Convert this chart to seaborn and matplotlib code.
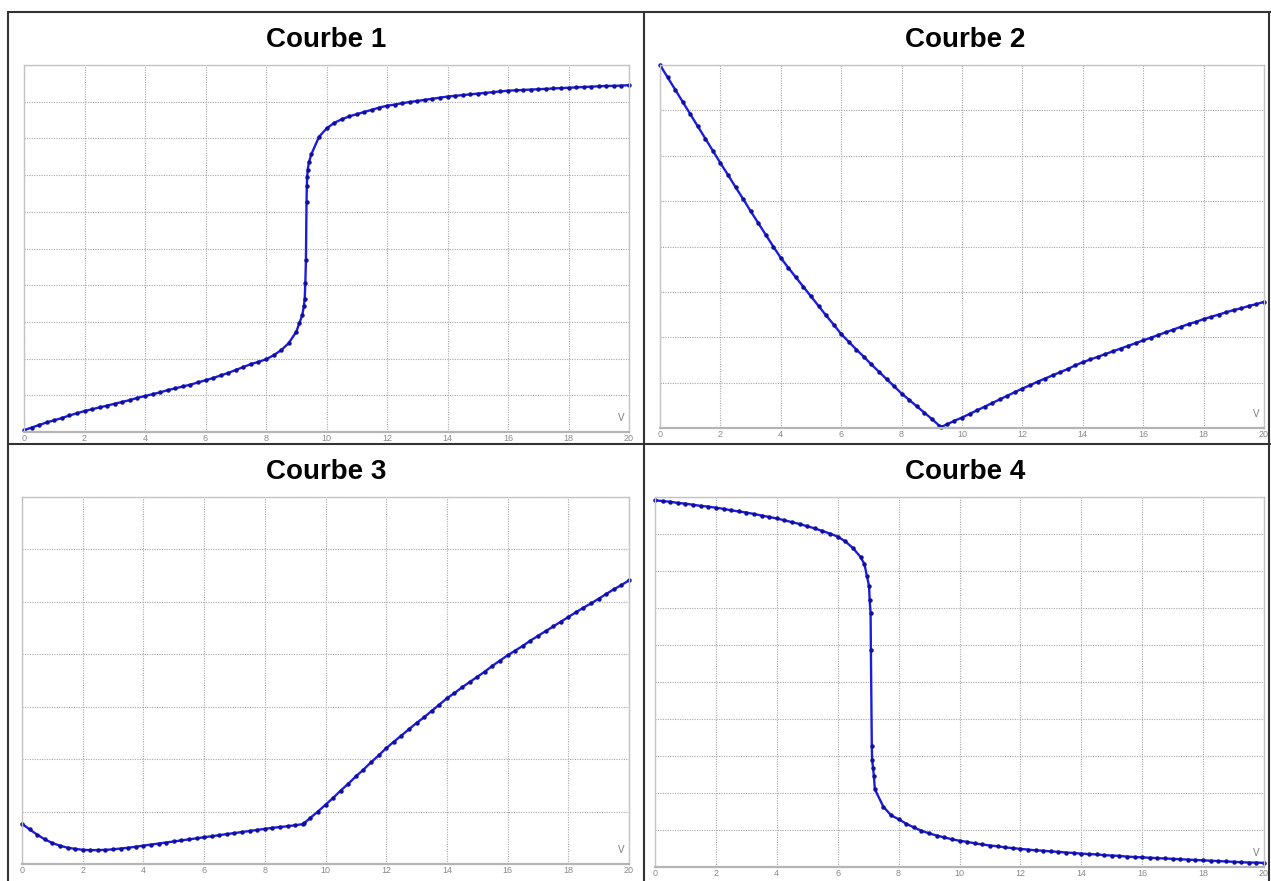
import matplotlib
matplotlib.use("Agg")
import matplotlib.pyplot as plt
from matplotlib.lines import Line2D
import seaborn as sns
import pandas as pd

# ---------------- data ----------------
titles = ["Courbe 1", "Courbe 2", "Courbe 3", "Courbe 4"]
x_ticks = [0, 2, 4, 6, 8, 10, 12, 14, 16, 18, 20]
x_tick_labels = ["0", "2", "4", "6", "8", "10", "12", "14", "16", "18", "20"]
y_max = [10, 8, 7, 10]

c1_x = [0, 0.25, 0.5, 0.75, 1, 1.25, 1.5, 1.75, 2, 2.25, 2.5, 2.75, 3, 3.25, 3.5, 3.75,
        4, 4.25, 4.5, 4.75, 5, 5.25, 5.5, 5.75, 6, 6.25, 6.5, 6.75, 7, 7.25, 7.5, 7.75,
        8, 8.25, 8.5, 8.75, 9, 9.1, 9.2, 9.25, 9.28, 9.3, 9.32, 9.34, 9.35, 9.36, 9.38,
        9.42, 9.5, 9.75, 10, 10.25, 10.5, 10.75, 11, 11.25, 11.5, 11.75, 12, 12.25, 12.5,
        12.75, 13, 13.25, 13.5, 13.75, 14, 14.25, 14.5, 14.75, 15, 15.25, 15.5, 15.75,
        16, 16.25, 16.5, 16.75, 17, 17.25, 17.5, 17.75, 18, 18.25, 18.5, 18.75, 19,
        19.25, 19.5, 19.75, 20]
c1_y = [0.05, 0.12, 0.19, 0.26, 0.32, 0.38, 0.45, 0.51, 0.57, 0.62, 0.67, 0.72, 0.77, 0.82,
        0.87, 0.93, 0.98, 1.03, 1.08, 1.14, 1.19, 1.24, 1.29, 1.35, 1.41, 1.47, 1.54, 1.61,
        1.69, 1.77, 1.85, 1.91, 1.98, 2.09, 2.23, 2.42, 2.73, 2.96, 3.19, 3.42, 3.63, 4.06,
        4.69, 6.27, 6.70, 6.95, 7.15, 7.35, 7.57, 8.04, 8.27, 8.42, 8.52, 8.60, 8.66, 8.72,
        8.78, 8.84, 8.89, 8.92, 8.96, 8.99, 9.02, 9.05, 9.08, 9.11, 9.14, 9.16, 9.18, 9.20,
        9.22, 9.24, 9.26, 9.28, 9.30, 9.31, 9.32, 9.33, 9.34, 9.35, 9.36, 9.37, 9.38, 9.39,
        9.40, 9.41, 9.42, 9.43, 9.43, 9.44, 9.45]

c2_x = [0, 0.25, 0.5, 0.75, 1, 1.25, 1.5, 1.75, 2, 2.25, 2.5, 2.75, 3, 3.25, 3.5, 3.75,
        4, 4.25, 4.5, 4.75, 5, 5.25, 5.5, 5.75, 6, 6.25, 6.5, 6.75, 7, 7.25, 7.5, 7.75,
        8, 8.25, 8.5, 8.75, 9, 9.25, 9.3, 9.5, 9.75, 10, 10.25, 10.5, 10.75, 11, 11.25,
        11.5, 11.75, 12, 12.25, 12.5, 12.75, 13, 13.25, 13.5, 13.75, 14, 14.25, 14.5,
        14.75, 15, 15.25, 15.5, 15.75, 16, 16.25, 16.5, 16.75, 17, 17.25, 17.5, 17.75,
        18, 18.25, 18.5, 18.75, 19, 19.25, 19.5, 19.75, 20]
c2_y = [8.00, 7.73, 7.46, 7.19, 6.92, 6.65, 6.38, 6.11, 5.84, 5.58, 5.31, 5.05, 4.78, 4.52,
        4.26, 4.00, 3.75, 3.53, 3.32, 3.11, 2.90, 2.69, 2.48, 2.28, 2.07, 1.90, 1.73, 1.57,
        1.40, 1.24, 1.08, 0.92, 0.76, 0.62, 0.48, 0.34, 0.20, 0.05, 0.02, 0.08, 0.16, 0.23,
        0.31, 0.39, 0.47, 0.55, 0.63, 0.71, 0.79, 0.87, 0.94, 1.02, 1.09, 1.16, 1.23, 1.30,
        1.38, 1.45, 1.51, 1.57, 1.63, 1.69, 1.75, 1.81, 1.87, 1.93, 1.99, 2.05, 2.11, 2.17,
        2.23, 2.29, 2.34, 2.40, 2.45, 2.50, 2.55, 2.60, 2.64, 2.69, 2.73, 2.78]

c3_x = [0, 0.25, 0.5, 0.75, 1, 1.25, 1.5, 1.75, 2, 2.25, 2.5, 2.75, 3, 3.25, 3.5, 3.75,
        4, 4.25, 4.5, 4.75, 5, 5.25, 5.5, 5.75, 6, 6.25, 6.5, 6.75, 7, 7.25, 7.5, 7.75,
        8, 8.25, 8.5, 8.75, 9, 9.25, 9.3, 9.5, 9.75, 10, 10.25, 10.5, 10.75, 11, 11.25,
        11.5, 11.75, 12, 12.25, 12.5, 12.75, 13, 13.25, 13.5, 13.75, 14, 14.25, 14.5,
        14.75, 15, 15.25, 15.5, 15.75, 16, 16.25, 16.5, 16.75, 17, 17.25, 17.5, 17.75,
        18, 18.25, 18.5, 18.75, 19, 19.25, 19.5, 19.75, 20]
c3_y = [0.77, 0.66, 0.56, 0.47, 0.40, 0.35, 0.31, 0.29, 0.27, 0.265, 0.265, 0.27, 0.28,
        0.295, 0.31, 0.33, 0.35, 0.37, 0.39, 0.41, 0.43, 0.45, 0.47, 0.49, 0.51, 0.53, 0.55,
        0.57, 0.59, 0.61, 0.63, 0.65, 0.67, 0.69, 0.705, 0.72, 0.74, 0.76, 0.78, 0.88, 1.00,
        1.13, 1.26, 1.40, 1.53, 1.67, 1.80, 1.94, 2.07, 2.21, 2.33, 2.45, 2.57, 2.69, 2.80,
        2.92, 3.04, 3.16, 3.26, 3.37, 3.47, 3.57, 3.67, 3.78, 3.88, 3.98, 4.07, 4.16, 4.26,
        4.35, 4.44, 4.53, 4.62, 4.71, 4.80, 4.89, 4.97, 5.06, 5.15, 5.24, 5.32, 5.41]

c4_x = [0, 0.25, 0.5, 0.75, 1, 1.25, 1.5, 1.75, 2, 2.25, 2.5, 2.75, 3, 3.25, 3.5, 3.75,
        4, 4.25, 4.5, 4.75, 5, 5.25, 5.5, 5.75, 6, 6.25, 6.5, 6.75, 6.88, 6.96, 7.03, 7.05,
        7.08, 7.09, 7.12, 7.13, 7.16, 7.19, 7.22, 7.5, 7.75, 8, 8.25, 8.5, 8.75, 9, 9.25,
        9.5, 9.75, 10, 10.25, 10.5, 10.75, 11, 11.25, 11.5, 11.75, 12, 12.25, 12.5, 12.75,
        13, 13.25, 13.5, 13.75, 14, 14.25, 14.5, 14.75, 15, 15.25, 15.5, 15.75, 16, 16.25,
        16.5, 16.75, 17, 17.25, 17.5, 17.75, 18, 18.25, 18.5, 18.75, 19, 19.25, 19.5,
        19.75, 20]
c4_y = [9.91, 9.89, 9.87, 9.84, 9.82, 9.79, 9.76, 9.74, 9.71, 9.68, 9.64, 9.61, 9.58, 9.54,
        9.50, 9.46, 9.42, 9.37, 9.32, 9.27, 9.21, 9.15, 9.08, 9.01, 8.93, 8.80, 8.62, 8.38,
        8.18, 7.86, 7.59, 7.21, 6.86, 5.87, 3.26, 2.90, 2.68, 2.45, 2.10, 1.63, 1.40, 1.29,
        1.17, 1.07, 0.98, 0.91, 0.85, 0.80, 0.75, 0.71, 0.68, 0.64, 0.61, 0.58, 0.56, 0.53,
        0.51, 0.49, 0.47, 0.45, 0.44, 0.42, 0.41, 0.39, 0.38, 0.36, 0.35, 0.34, 0.32, 0.31,
        0.30, 0.28, 0.27, 0.26, 0.25, 0.24, 0.23, 0.22, 0.21, 0.20, 0.19, 0.18, 0.17, 0.16,
        0.15, 0.14, 0.13, 0.12, 0.12, 0.11]

curves_x = [c1_x, c2_x, c3_x, c4_x]
curves_y = [c1_y, c2_y, c3_y, c4_y]

# ---------------- layout (pixels in a 1271x881 canvas) ----------------
W, H = 1271, 881
# (left, right, top, bottom) of each plotting area
boxes = [(24, 629, 65, 432), (660, 1264, 65, 428), (22, 629, 497, 864), (655, 1264, 497, 867)]
title_pos = [(326, 40), (965, 40), (326, 472), (965, 472)]

sns.set_style("white")
plt.rcParams["font.family"] = ["Liberation Sans", "DejaVu Sans"]

fig = plt.figure(figsize=(W / 100, H / 100), dpi=100)
fig.patch.set_facecolor("white")

line_col = "#1c1ce0"
mark_col = "#10109c"
grid_col = "#a8a8a8"
frame_col = "#c4c4c4"

for i in range(4):
    l, r, t, b = boxes[i]
    ax = fig.add_axes([l / W, 1 - b / H, (r - l) / W, (b - t) / H])
    df = pd.DataFrame({"V": curves_x[i], "val": curves_y[i]})
    sns.lineplot(data=df, x="V", y="val", ax=ax, estimator=None, sort=False,
                 color=line_col, linewidth=1.7, marker="o", markersize=3.2,
                 markerfacecolor=mark_col, markeredgewidth=0)
    ax.set_xlim(0, 20)
    ax.set_ylim(0, y_max[i])
    ax.set_xticks(x_ticks)
    ax.set_xticklabels(x_tick_labels)
    ax.set_yticks(list(range(0, y_max[i] + 1)))
    ax.set_yticklabels([])
    ax.set_xlabel("")
    ax.set_ylabel("")
    ax.tick_params(axis="x", length=0, pad=1.5, labelsize=6.5, labelcolor="#8a8a8a")
    ax.tick_params(axis="y", length=0)
    ax.grid(True, color=grid_col, linestyle=(0, (1, 1.2)), linewidth=0.8)
    ax.set_axisbelow(True)
    for side in ["top", "left", "right"]:
        ax.spines[side].set_color(frame_col)
        ax.spines[side].set_linewidth(1.0)
    ax.spines["bottom"].set_color("#b5b5b5")
    ax.spines["bottom"].set_linewidth(1.6)
    ax.text(19.75, 0.024 * y_max[i], "V", fontsize=7, color="#7a7a7a",
            ha="center", va="bottom", transform=ax.transData)
    ax.lines[0].set_clip_on(False)
    fig.text(title_pos[i][0] / W, 1 - title_pos[i][1] / H, titles[i], fontsize=20,
             fontweight="bold", ha="center", va="center", color="black")

# table borders
border_col = "#333333"
segs = [((8, 12), (1271, 12)), ((8, 12), (8, 881)), ((644, 12), (644, 881)),
        ((8, 444), (1271, 444)), ((1269, 12), (1269, 881))]
for (x0, y0), (x1, y1) in segs:
    fig.add_artist(Line2D([x0 / W, x1 / W], [1 - y0 / H, 1 - y1 / H],
                          transform=fig.transFigure, color=border_col, linewidth=1.5))

fig.savefig("out.png", dpi=100, facecolor="white")
